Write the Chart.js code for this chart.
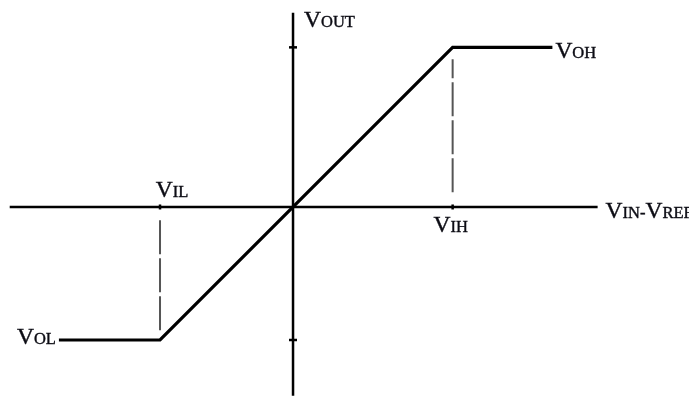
<!DOCTYPE html>
<html>
<head>
<meta charset="utf-8">
<script src="https://cdn.jsdelivr.net/npm/chart.js@4.4.1/dist/chart.umd.min.js"></script>
<style>
  body { margin: 0; background: #fff; }
  #wrap { width: 689px; height: 396px; }
</style>
</head>
<body>
<div id="wrap"><canvas id="chartTransfer" width="689" height="396"></canvas></div>
<script>
// axis extents (data units)
var xAxisX = [-2.13, 2.29];
var xAxisY = [0, 0];
var yAxisX = [0, 0];
var yAxisY = [-1.42, 1.46];

// comparator transfer curve
var curveX = [-1.76, -1.0, 1.2, 1.95];
var curveY = [-1.0, -1.0, 1.2, 1.2];

// dashed guide lines
var dashILx = [-1.0, -1.0];
var dashILy = [-0.1, -0.95];
var dashIHx = [1.2, 1.2];
var dashIHy = [0.11, 1.11];

// tick positions on the axes
var yTicks = [1.2, -1.0];
var xTicks = [-1.0, 1.2];

var BIG = '23.5px "Liberation Serif", "DejaVu Serif", serif';
var SMALL = '16.5px "Liberation Serif", "DejaVu Serif", serif';

function pts(xs, ys) {
    var out = [];
    for (var i = 0; i < xs.length; i++) {
        out.push({ x: xs[i], y: ys[i] });
    }
    return out;
}

// draws "V" followed by small-cap letters
function capsWidth(ctx, big, small) {
    ctx.font = BIG;
    var w = ctx.measureText(big).width;
    ctx.font = SMALL;
    return w + ctx.measureText(small).width;
}
function drawCaps(ctx, parts, x, y, align) {
    var total = 0;
    for (var i = 0; i < parts.length; i++) {
        total += capsWidth(ctx, parts[i][0], parts[i][1]);
    }
    if (align == 'center') x -= total / 2;
    if (align == 'right') x -= total;
    ctx.fillStyle = '#0c0c14';
    ctx.strokeStyle = '#0c0c14';
    ctx.lineWidth = 0.4;
    ctx.textBaseline = 'alphabetic';
    ctx.textAlign = 'left';
    for (var j = 0; j < parts.length; j++) {
        ctx.font = BIG;
        ctx.fillText(parts[j][0], x, y);
        ctx.strokeText(parts[j][0], x, y);
        x += ctx.measureText(parts[j][0]).width;
        ctx.font = SMALL;
        ctx.fillText(parts[j][1], x, y);
        ctx.strokeText(parts[j][1], x, y);
        x += ctx.measureText(parts[j][1]).width;
    }
}

var labelPlugin = {
    id: 'labelPlugin',
    afterDatasetsDraw: function (chart) {
        var ctx = chart.ctx;
        var sx = chart.scales.x, sy = chart.scales.y;
        ctx.save();
        // tick marks
        ctx.strokeStyle = '#000';
        ctx.lineWidth = 2.5;
        for (var i = 0; i < yTicks.length; i++) {
            var py = sy.getPixelForValue(yTicks[i]);
            var px0 = sx.getPixelForValue(0);
            ctx.beginPath();
            ctx.moveTo(px0 - 4, py);
            ctx.lineTo(px0 + 4, py);
            ctx.stroke();
        }
        for (var k = 0; k < xTicks.length; k++) {
            var px = sx.getPixelForValue(xTicks[k]);
            var py0 = sy.getPixelForValue(0);
            ctx.beginPath();
            ctx.moveTo(px, py0 - 2.5);
            ctx.lineTo(px, py0 + 2.5);
            ctx.stroke();
        }
        // labels
        var oy = sy.getPixelForValue(0), ox = sx.getPixelForValue(0);
        drawCaps(ctx, [['V', 'OUT']], ox + 11, sy.getPixelForValue(yAxisY[1]) + 14, 'left');
        drawCaps(ctx, [['V', 'OH']], sx.getPixelForValue(curveX[3]) + 3, sy.getPixelForValue(curveY[3]) + 11, 'left');
        drawCaps(ctx, [['V', 'OL']], sx.getPixelForValue(curveX[0]) - 3, sy.getPixelForValue(curveY[0]) + 4, 'right');
        drawCaps(ctx, [['V', 'IL']], sx.getPixelForValue(dashILx[0]) + 12, oy - 10, 'center');
        drawCaps(ctx, [['V', 'IH']], sx.getPixelForValue(dashIHx[0]) - 2, oy + 25, 'center');
        drawCaps(ctx, [['V', 'IN-'], ['V', 'REF']], sx.getPixelForValue(xAxisX[1]) + 8, oy + 11, 'left');
        ctx.restore();
    }
};

var ctx_chart = document.getElementById('chartTransfer').getContext('2d');
var chart = new Chart(ctx_chart, {
    type: 'scatter',
    data: {
        datasets: [
            { data: pts(xAxisX, xAxisY), showLine: true, borderColor: '#000', borderWidth: 2.5, pointRadius: 0 },
            { data: pts(yAxisX, yAxisY), showLine: true, borderColor: '#000', borderWidth: 2.5, pointRadius: 0 },
            { data: pts(dashILx, dashILy), showLine: true, borderColor: '#555', borderWidth: 2, borderDash: [34, 4], pointRadius: 0 },
            { data: pts(dashIHx, dashIHy), showLine: true, borderColor: '#555', borderWidth: 2, borderDash: [34, 4], pointRadius: 0 },
            { data: pts(curveX, curveY), showLine: true, borderColor: '#000', borderWidth: 3.2, pointRadius: 0, borderJoinStyle: 'miter' }
        ]
    },
    options: {
        responsive: false,
        animation: false,
        layout: { padding: 0 },
        plugins: {
            legend: { display: false },
            tooltip: { enabled: false }
        },
        scales: {
            x: { type: 'linear', display: false, min: -2.203, max: 2.977 },
            y: { type: 'linear', display: false, min: -1.421, max: 1.556 }
        }
    },
    plugins: [labelPlugin]
});
</script>
</body>
</html>
